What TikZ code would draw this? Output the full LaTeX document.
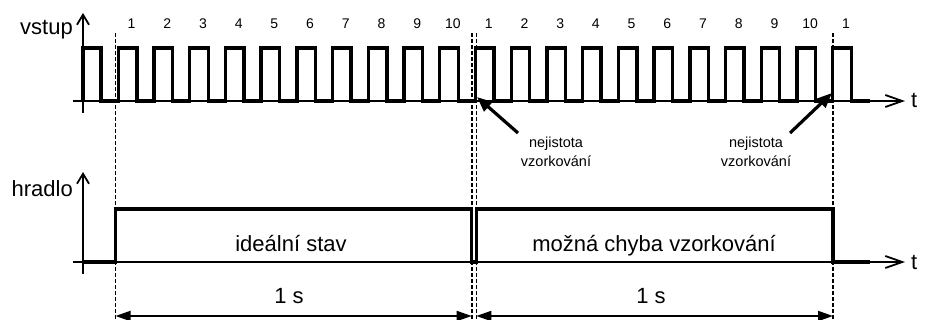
\documentclass[tikz,border=0pt]{standalone}
\usepackage{fontspec}
\setmainfont{Liberation Sans}
\usetikzlibrary{arrows.meta}
\begin{document}
\begin{tikzpicture}[x=1pt,y=-1pt,
  signal/.style={line width=3.4pt,line join=miter},
  axis/.style={line width=1.8pt},
  vaxis/.style={axis,-{Straight Barb[length=10pt,width=12pt,line width=1.8pt]}},
  haxis/.style={axis,-{Straight Barb[length=17pt,width=12pt,line width=1.8pt]}},
  marker/.style={line width=1.6pt,dash pattern=on 4pt off 2pt},
  pointer/.style={line width=3.2pt,-{Triangle[length=15pt,width=12pt]}},
  span/.style={line width=1.8pt,{Triangle[length=15pt,width=10pt]}-{Triangle[length=15pt,width=10pt]}},
  biglabel/.style={font=\fontsize{22}{26}\selectfont,inner sep=0pt},
  numlabel/.style={font=\fontsize{14}{16}\selectfont,inner sep=0pt,anchor=base},
  note/.style={font=\fontsize{14.5}{19}\selectfont,align=center,inner sep=0pt}]
\useasboundingbox (0,0) rectangle (926,320);

% input signal: axes
\draw[vaxis] (83,113) -- (83,13);
\draw[haxis] (73,101) -- (905,101);
\node[biglabel,anchor=base east] (vstup) at (73,35) {vstup};
\node[biglabel,anchor=base west] (t1) at (911,108) {t};

% gate signal: axes
\draw[vaxis] (83,274) -- (83,172);
\draw[haxis] (73,262) -- (905,262);
\node[biglabel,anchor=base east] (hradlo) at (73,197) {hradlo};
\node[biglabel,anchor=base west] (t2) at (911,270) {t};

% sampling boundaries
\foreach \xm/\nm in {115.5/m0,471.7/m1,476.3/m2,833/m3}{
  \coordinate (\nm top) at (\xm,33);
  \coordinate (\nm bot) at (\xm,320);
  \draw[marker] (\nm top) -- (\nm bot);
}

% input pulse train
\draw[signal] (83,101) -- (83,48) -- (101,48) -- (101,101)
  \foreach \k in {0,...,20}{
    -- ({118.3+35.72*\k},101) -- ({118.3+35.72*\k},48)
    -- ({136.8+35.72*\k},48) -- ({136.8+35.72*\k},101)
  } -- (870,101);

% pulse numbers
\foreach \k in {0,...,20}{
  \pgfmathtruncatemacro{\n}{mod(\k,10)+1}
  \node[numlabel] (n\k) at ({131.5+35.72*\k},29) {\n};
}

% gate waveform
\draw[signal] (83,262) -- (115.5,262) -- (115.5,209) -- (471.5,209)
  -- (471.5,262) -- (476.3,262) -- (476.3,209) -- (833,209)
  -- (833,262) -- (870,262);
\node[biglabel,anchor=base] (ideal) at (291,252) {ideální stav};
\node[biglabel,anchor=base] (chyba) at (654,252) {možná chyba vzorkování};

% uncertainty notes
\node[note] (nej1) at (556,152) {nejistota\\vzorkování};
\node[note] (nej2) at (756,152) {nejistota\\vzorkování};
\coordinate (p1tail) at (518,133);
\coordinate (p1tip) at (477,97);
\coordinate (p2tail) at (790,133);
\coordinate (p2tip) at (832,93);
\draw[pointer] (p1tail) -- (p1tip);
\draw[pointer] (p2tail) -- (p2tip);

% one-second spans
\coordinate (s1a) at (115.5,316);
\coordinate (s1b) at (471.7,316);
\coordinate (s2a) at (476.3,316);
\coordinate (s2b) at (833,316);
\draw[span] (s1a) -- (s1b);
\draw[span] (s2a) -- (s2b);
\node[biglabel,anchor=base] (sec1) at (289,303) {1 s};
\node[biglabel,anchor=base] (sec2) at (651,303) {1 s};
\end{tikzpicture}
\end{document}
